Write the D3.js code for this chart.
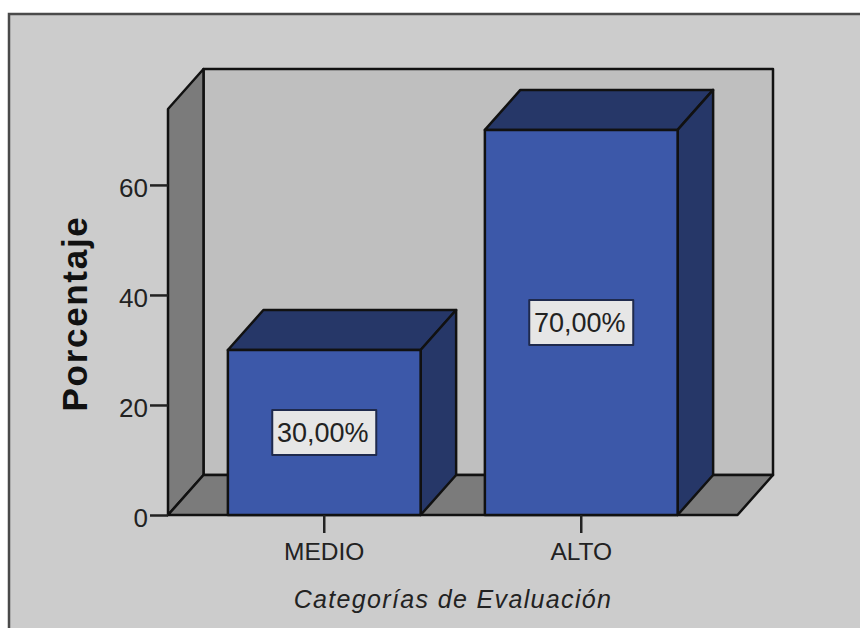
<!DOCTYPE html>
<html>
<head>
<meta charset="utf-8">
<script src="https://cdnjs.cloudflare.com/ajax/libs/d3/7.8.5/d3.min.js"></script>
<style>
  html, body { margin: 0; padding: 0; background: #fff; }
  svg { display: block; font-family: "Liberation Sans", Arial, sans-serif; }
</style>
</head>
<body>
<svg id="chart" width="860" height="628"></svg>
<script>
// Evaluation results by category
const categories = ["MEDIO", "ALTO"];
const percentages = [30, 70];
const valueLabels = ["30,00%", "70,00%"];
const yTicks = [0, 20, 40, 60];
const yTitle = "Porcentaje";
const xTitle = "Categorías de Evaluación";

const W = 860, H = 628;
const plot = { left: 168, right: 737.5, base: 515, top: 109 };
const depth = { x: 35.5, y: 40 };
const ink = "#111";

const svg = d3.select("#chart");
const y = d3.scaleLinear().domain([0, 73.8]).range([plot.base, plot.top]);
const x = d3.scaleBand().domain(categories)
  .range([plot.left, plot.right])
  .paddingInner(0.25).paddingOuter(0.233);

const poly = pts => "M" + pts.map(p => p.join(",")).join("L") + "Z";

// Panel background and its frame, open at the right and bottom edges
svg.append("rect").attr("x", 9).attr("y", 14).attr("width", W).attr("height", H)
  .attr("fill", "#cccccc").attr("stroke", "#4a4a4a").attr("stroke-width", 2.5);

// Box walls: back, left side, floor
const backLeft = plot.left + depth.x, backRight = plot.right + depth.x;
const backBase = plot.base - depth.y, backTop = plot.top - depth.y;
const walls = svg.append("g").attr("stroke", ink).attr("stroke-width", 2.5).attr("stroke-linejoin", "round");
walls.append("path").attr("fill", "#bfbfbf")
  .attr("d", poly([[backLeft, backTop], [backRight, backTop], [backRight, backBase], [backLeft, backBase]]));
walls.append("path").attr("fill", "#7b7b7b")
  .attr("d", poly([[plot.left, plot.base], [plot.left, plot.top], [backLeft, backTop], [backLeft, backBase]]));
walls.append("path").attr("fill", "#7b7b7b")
  .attr("d", poly([[plot.left, plot.base], [backLeft, backBase], [backRight, backBase], [plot.right, plot.base]]));

// Three-faced bars
const bars = svg.append("g").selectAll("g")
  .data(categories.map((c, i) => ({ c, v: percentages[i], label: valueLabels[i] })))
  .join("g").attr("stroke", ink).attr("stroke-width", 2.5).attr("stroke-linejoin", "round");

bars.append("path").attr("fill", "#263768").attr("d", d => {
  const l = x(d.c), r = l + x.bandwidth(), t = y(d.v);
  return poly([[l, t], [l + depth.x, t - depth.y], [r + depth.x, t - depth.y], [r, t]]);
});
bars.append("path").attr("fill", "#263768").attr("d", d => {
  const r = x(d.c) + x.bandwidth(), t = y(d.v);
  return poly([[r, t], [r + depth.x, t - depth.y], [r + depth.x, plot.base - depth.y], [r, plot.base]]);
});
bars.append("rect").attr("fill", "#3c58a9")
  .attr("x", d => x(d.c)).attr("y", d => y(d.v))
  .attr("width", x.bandwidth()).attr("height", d => plot.base - y(d.v));

// Value labels, centred on each bar's front face
const tags = bars.append("g")
  .attr("transform", d => `translate(${x(d.c) + x.bandwidth() / 2},${y(d.v / 2)})`);
tags.append("rect").attr("x", -52).attr("y", -22.5).attr("width", 104).attr("height", 45)
  .attr("fill", "#e6e6e6").attr("stroke", "#1f2a4d").attr("stroke-width", 2);
tags.append("text").attr("text-anchor", "middle").attr("dx", -1.5).attr("dy", "0.36em")
  .attr("font-size", 27).attr("fill", "#222").attr("stroke", "none")
  .text(d => d.label);

// Axes
const yAxis = svg.append("g").attr("transform", `translate(${plot.left},0)`)
  .call(d3.axisLeft(y).tickValues(yTicks).tickSize(18).tickPadding(2));
const xAxis = svg.append("g").attr("transform", `translate(0,${plot.base})`)
  .call(d3.axisBottom(x).tickSize(18).tickPadding(10));
[yAxis, xAxis].forEach(a => {
  a.select(".domain").remove();
  a.selectAll(".tick line").attr("stroke", "#222").attr("stroke-width", 2.5);
  a.selectAll(".tick text").attr("fill", "#222")
    .attr("font-family", "'Liberation Sans', Arial, sans-serif");
});
yAxis.selectAll(".tick text").attr("font-size", 26).attr("dy", "0.44em");
xAxis.selectAll(".tick text").attr("font-size", 24.5);

// Axis titles
svg.append("text")
  .attr("transform", "translate(87,313.5) rotate(-90)")
  .attr("text-anchor", "middle").attr("font-size", 35).attr("font-weight", "bold")
  .attr("letter-spacing", 1.7).attr("fill", "#111").text(yTitle);
svg.append("text")
  .attr("x", 453).attr("y", 608).attr("text-anchor", "middle")
  .attr("font-size", 25).attr("font-style", "italic").attr("letter-spacing", 1.35)
  .attr("fill", "#222").text(xTitle);
</script>
</body>
</html>
